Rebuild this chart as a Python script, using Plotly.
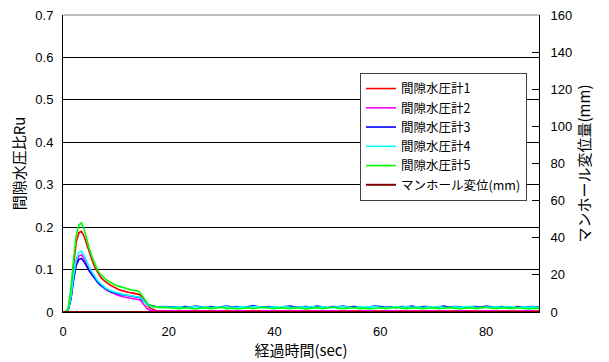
import plotly.graph_objects as go

# ---------------- data ----------------
time = [0.0, 0.5, 1.0, 1.5, 2.0, 2.5, 3.0, 3.5, 4.0, 4.5,
        5.0, 5.5, 6.0, 6.5, 7.0, 7.5, 8.0, 8.5, 9.0, 9.5,
        10.0, 10.5, 11.0, 11.5, 12.0, 12.5, 13.0, 13.5, 14.0, 14.5,
        15.0, 15.5, 16.0, 16.5, 17.0, 17.5, 18.0, 18.5, 19.0, 19.5,
        20.0,
        21, 22, 23, 24, 25, 26, 27, 28, 29, 30,
        31, 32, 33, 34, 35, 36, 37, 38, 39, 40,
        41, 42, 43, 44, 45, 46, 47, 48, 49, 50,
        51, 52, 53, 54, 55, 56, 57, 58, 59, 60,
        61, 62, 63, 64, 65, 66, 67, 68, 69, 70,
        71, 72, 73, 74, 75, 76, 77, 78, 79, 80,
        81, 82, 83, 84, 85, 86, 87, 88, 89, 90]

gauge1 = [0, 0, 0.008, 0.045, 0.11, 0.165, 0.187, 0.19, 0.178, 0.158,
          0.14, 0.122, 0.106, 0.094, 0.084, 0.077, 0.071, 0.067, 0.063, 0.059,
          0.056, 0.053, 0.051, 0.049, 0.047, 0.046, 0.045, 0.044, 0.043, 0.041,
          0.034, 0.024, 0.015, 0.009, 0.006, 0.004, 0.003, 0.003, 0.002, 0.002,
          0.002,
          0.002, 0.003, 0.002, 0.002, 0.003, 0.002, 0.003, 0.002, 0.002, 0.003,
          0.002, 0.003, 0.003, 0.002, 0.002, 0.003, 0.002, 0.003, 0.002, 0.002,
          0.003, 0.002, 0.002, 0.003, 0.003, 0.002, 0.002, 0.003, 0.002, 0.003,
          0.002, 0.002, 0.003, 0.002, 0.003, 0.002, 0.002, 0.003, 0.002, 0.002,
          0.003, 0.002, 0.003, 0.002, 0.002, 0.003, 0.002, 0.002, 0.003, 0.002,
          0.003, 0.002, 0.002, 0.003, 0.002, 0.003, 0.002, 0.002, 0.003, 0.002,
          0.002, 0.003, 0.002, 0.003, 0.002, 0.002, 0.003, 0.002, 0.003, 0.002]

gauge2 = [0, 0, 0.006, 0.033, 0.08, 0.118, 0.132, 0.135, 0.126, 0.112,
          0.1, 0.09, 0.08, 0.072, 0.065, 0.059, 0.054, 0.05, 0.047, 0.044,
          0.041, 0.039, 0.037, 0.035, 0.034, 0.033, 0.032, 0.031, 0.03, 0.029,
          0.022, 0.013, 0.007, 0.004, 0.003, 0.002, 0.002, 0.002, 0.002, 0.002,
          0.002,
          0.002, 0.001, 0.002, 0.003, 0.001, 0.002, 0.002, 0.001, 0.003, 0.002,
          0.001, 0.002, 0.002, 0.003, 0.001, 0.002, 0.001, 0.002, 0.003, 0.002,
          0.002, 0.001, 0.002, 0.002, 0.003, 0.001, 0.002, 0.002, 0.001, 0.002,
          0.003, 0.002, 0.001, 0.002, 0.002, 0.001, 0.003, 0.002, 0.002, 0.001,
          0.002, 0.002, 0.003, 0.001, 0.002, 0.002, 0.001, 0.002, 0.003, 0.002,
          0.001, 0.002, 0.002, 0.001, 0.003, 0.002, 0.002, 0.001, 0.002, 0.002,
          0.003, 0.001, 0.002, 0.002, 0.001, 0.002, 0.002, 0.003, 0.001, 0.002]

gauge3 = [0, 0, 0.005, 0.03, 0.075, 0.11, 0.124, 0.126, 0.118, 0.106,
          0.096, 0.087, 0.078, 0.071, 0.064, 0.059, 0.055, 0.051, 0.048, 0.046,
          0.044, 0.042, 0.041, 0.04, 0.039, 0.038, 0.037, 0.036, 0.035, 0.034,
          0.028, 0.022, 0.018, 0.016, 0.014, 0.013, 0.012, 0.013, 0.012, 0.013,
          0.012,
          0.012, 0.010, 0.013, 0.011, 0.014, 0.012, 0.010, 0.013, 0.011, 0.012,
          0.014, 0.011, 0.013, 0.010, 0.012, 0.015, 0.012, 0.011, 0.013, 0.012,
          0.010, 0.013, 0.014, 0.011, 0.012, 0.013, 0.011, 0.014, 0.012, 0.010,
          0.013, 0.012, 0.014, 0.011, 0.013, 0.012, 0.010, 0.012, 0.014, 0.013,
          0.011, 0.012, 0.010, 0.013, 0.012, 0.014, 0.011, 0.012, 0.013, 0.010,
          0.012, 0.014, 0.011, 0.013, 0.012, 0.010, 0.012, 0.013, 0.011, 0.014,
          0.012, 0.011, 0.013, 0.012, 0.010, 0.013, 0.011, 0.012, 0.013, 0.011]

gauge4 = [0, 0, 0.006, 0.035, 0.085, 0.125, 0.14, 0.143, 0.133, 0.118,
          0.105, 0.094, 0.084, 0.075, 0.068, 0.062, 0.057, 0.053, 0.05, 0.048,
          0.046, 0.044, 0.042, 0.041, 0.04, 0.039, 0.038, 0.037, 0.036, 0.035,
          0.03, 0.022, 0.016, 0.013, 0.012, 0.011, 0.011, 0.012, 0.011, 0.012,
          0.011,
          0.011, 0.012, 0.010, 0.011, 0.013, 0.011, 0.012, 0.010, 0.012, 0.011,
          0.013, 0.010, 0.011, 0.012, 0.011, 0.013, 0.012, 0.010, 0.011, 0.012,
          0.011, 0.013, 0.011, 0.010, 0.012, 0.011, 0.013, 0.011, 0.012, 0.010,
          0.011, 0.012, 0.013, 0.011, 0.010, 0.012, 0.011, 0.012, 0.013, 0.011,
          0.010, 0.011, 0.012, 0.011, 0.013, 0.011, 0.012, 0.010, 0.012, 0.011,
          0.013, 0.011, 0.010, 0.012, 0.011, 0.012, 0.013, 0.011, 0.010, 0.012,
          0.011, 0.012, 0.011, 0.013, 0.011, 0.010, 0.012, 0.011, 0.012, 0.010]

gauge5 = [0, 0, 0.01, 0.055, 0.125, 0.18, 0.205, 0.21, 0.195, 0.17,
          0.148, 0.13, 0.113, 0.1, 0.09, 0.083, 0.078, 0.073, 0.069, 0.066,
          0.063, 0.061, 0.059, 0.057, 0.055, 0.054, 0.052, 0.051, 0.05, 0.047,
          0.038, 0.028, 0.02, 0.015, 0.013, 0.012, 0.011, 0.01, 0.011, 0.01,
          0.01,
          0.009, 0.008, 0.010, 0.009, 0.007, 0.009, 0.010, 0.008, 0.009, 0.011,
          0.008, 0.009, 0.007, 0.009, 0.010, 0.008, 0.009, 0.011, 0.009, 0.008,
          0.010, 0.009, 0.008, 0.010, 0.009, 0.007, 0.009, 0.010, 0.008, 0.009,
          0.011, 0.009, 0.008, 0.009, 0.010, 0.008, 0.009, 0.007, 0.009, 0.010,
          0.008, 0.009, 0.011, 0.009, 0.008, 0.010, 0.009, 0.008, 0.009, 0.010,
          0.008, 0.009, 0.010, 0.009, 0.007, 0.009, 0.010, 0.008, 0.009, 0.011,
          0.009, 0.008, 0.010, 0.009, 0.008, 0.010, 0.009, 0.007, 0.009, 0.008]

manhole_mm = [0.0] * len(time)

series_names = ["間隙水圧計1", "間隙水圧計2", "間隙水圧計3", "間隙水圧計4", "間隙水圧計5"]
series_values = [gauge1, gauge2, gauge3, gauge4, gauge5]
series_colors = ["#FF0000", "#FF00FF", "#0000FF", "#00FFFF", "#00FF00"]
manhole_name = "マンホール変位(mm)"
manhole_color = "#800000"

x_ticks = [0, 20, 40, 60, 80]
y_ticks = [0, 0.1, 0.2, 0.3, 0.4, 0.5, 0.6, 0.7]
y_tick_labels = ["0", "0.1", "0.2", "0.3", "0.4", "0.5", "0.6", "0.7"]
y2_ticks = [0, 20, 40, 60, 80, 100, 120, 140, 160]

# ---------------- figure ----------------
FONT = "Liberation Sans, Arial, Noto Sans CJK JP, sans-serif"
JFONT = "Noto Sans CJK JP, sans-serif"
fig = go.Figure()
for name, vals, col in zip(series_names, series_values, series_colors):
    fig.add_trace(go.Scatter(x=time, y=vals, name=name, mode="lines",
                             line=dict(color=col, width=1.6)))
fig.add_trace(go.Scatter(x=time, y=manhole_mm, name=manhole_name, mode="lines",
                         yaxis="y2", line=dict(color=manhole_color, width=2)))

# the page body adds an 8px offset, so the figure is 8px smaller
fig.update_layout(
    width=601, height=354,
    margin=dict(l=55, r=70, t=7, b=50, autoexpand=False),
    paper_bgcolor="white", plot_bgcolor="white",
    font=dict(family=FONT, size=13, color="black"),
    showlegend=True,
    legend=dict(x=0.624, y=0.805, xanchor="left", yanchor="top",
                bgcolor="white", bordercolor="#404040", borderwidth=1,
                font=dict(size=12.5, family=JFONT),
                itemwidth=30, tracegroupgap=0),
    xaxis=dict(range=[0, 90], tickvals=x_ticks, showgrid=False, zeroline=False,
               showline=True, linecolor="black", linewidth=1, ticks="",
               automargin=False, ticklabeloverflow="allow",
               ticklabelstandoff=7, tickfont=dict(size=13),
               title=dict(text="経過時間(sec)", standoff=2,
                          font=dict(size=15, family=JFONT))),
    yaxis=dict(range=[0, 0.7], tickvals=y_ticks, ticktext=y_tick_labels, showgrid=True,
               gridcolor="black", gridwidth=1, zeroline=False,
               showline=True, linecolor="black", linewidth=1,
               ticks="inside", ticklen=5, tickcolor="black", automargin=False,
               ticklabeloverflow="allow",
               ticklabelstandoff=6, tickfont=dict(size=13),
               title=dict(text="間隙水圧比Ru", standoff=8,
                          font=dict(size=15, family=JFONT))),
    yaxis2=dict(range=[0, 160], tickvals=y2_ticks, overlaying="y", side="right",
                showgrid=False, zeroline=False, showline=True, linecolor="black",
                linewidth=1, ticks="inside", ticklen=7, tickcolor="black",
                automargin=False, ticklabeloverflow="allow",
                ticklabelstandoff=8, tickfont=dict(size=13),
                title=dict(text="マンホール変位量(mm)", standoff=8,
                           font=dict(size=15, family=JFONT))),
    shapes=[dict(type="line", xref="paper", yref="paper", x0=0, x1=1, y0=1, y1=1,
                 line=dict(color="#808080", width=1))],
)

fig.write_html("out.html")
